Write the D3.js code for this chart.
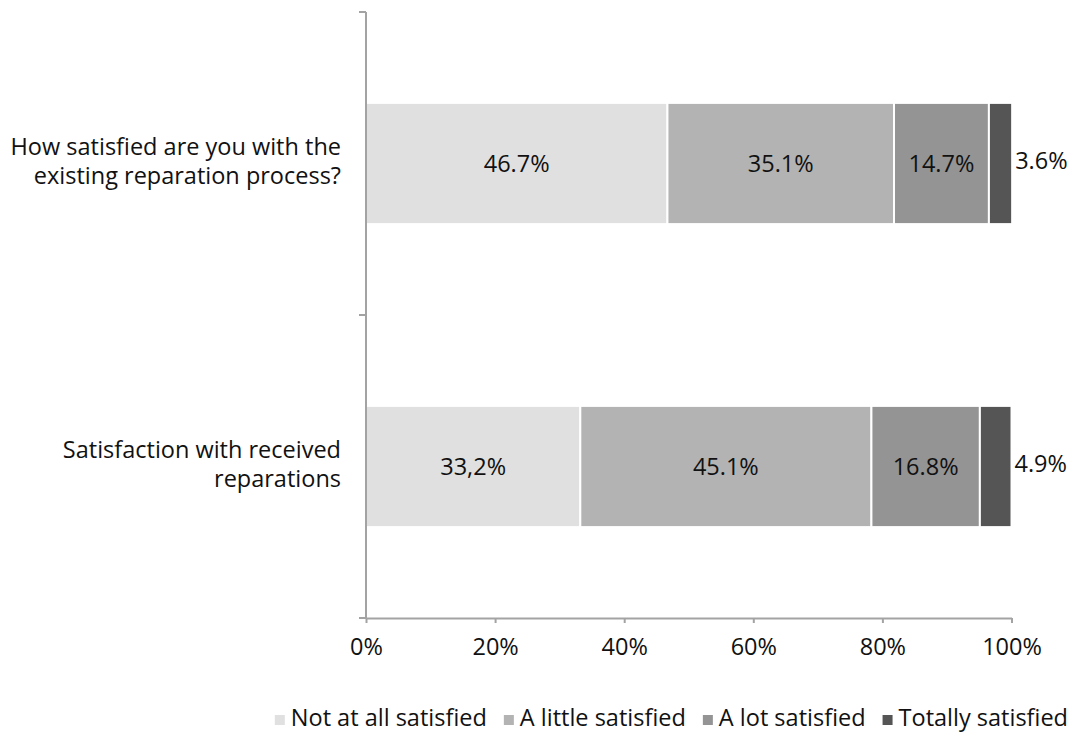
<!DOCTYPE html>
<html>
<head>
<meta charset="utf-8">
<script src="https://cdn.jsdelivr.net/npm/d3@7"></script>
<style>
  html, body { margin: 0; padding: 0; background: #fff; }
  svg { display: block; font-family: "Open Sans", "Noto Sans", sans-serif; }
</style>
</head>
<body>
<svg id="chart" width="1077" height="740"></svg>
<script>
// Survey questions (top to bottom), each split into four answer shares (%)
const questions = [
  ["How satisfied are you with the", "existing reparation process?"],
  ["Satisfaction with received", "reparations"]
];
const questionKeys = ["process", "received"];
const answerLevels = ["Not at all satisfied", "A little satisfied", "A lot satisfied", "Totally satisfied"];
const processShares = [46.7, 35.1, 14.7, 3.6];
const receivedShares = [33.2, 45.1, 16.8, 4.9];
const processLabels = ["46.7%", "35.1%", "14.7%", "3.6%"];
const receivedLabels = ["33,2%", "45.1%", "16.8%", "4.9%"];
const xTicks = [0, 20, 40, 60, 80, 100];
const xTickLabels = ["0%", "20%", "40%", "60%", "80%", "100%"];
const levelColors = ["#e0e0e0", "#b3b3b3", "#949494", "#555555"];

const rows = [
  { key: questionKeys[0], lines: questions[0], shares: processShares, labels: processLabels },
  { key: questionKeys[1], lines: questions[1], shares: receivedShares, labels: receivedLabels }
];

const svg = d3.select("#chart");
const fontSize = 23.5;
const axisColor = "#a3a3a3";

const plot = { left: 366, right: 1011.5, top: 12, bottom: 618 };

const x = d3.scaleLinear().domain([0, 100]).range([plot.left, plot.right]);
const y = d3.scaleBand()
  .domain(questionKeys)
  .range([plot.top, plot.bottom])
  .paddingInner(0.6)
  .paddingOuter(0.3);
const color = d3.scaleOrdinal().domain(answerLevels).range(levelColors);

// Stacked segments per question
rows.forEach(row => {
  let acc = 0;
  row.segs = row.shares.map((v, i) => {
    const s = { level: answerLevels[i], x0: acc, x1: acc + v, label: row.labels[i], value: v };
    acc += v;
    return s;
  });
  row.total = acc;
});

const barG = svg.append("g");
rows.forEach(row => {
  const g = barG.append("g");
  g.selectAll("rect")
    .data(row.segs)
    .join("rect")
    .attr("x", d => x(d.x0))
    .attr("y", y(row.key))
    .attr("width", d => x(d.x1) - x(d.x0))
    .attr("height", y.bandwidth())
    .attr("fill", d => color(d.level))
    .attr("stroke", "#ffffff")
    .attr("stroke-width", 2);

  const cy = y(row.key) + y.bandwidth() / 2;
  // Value labels: centred in wide segments, beside the bar end for the narrow last one
  g.selectAll("text")
    .data(row.segs)
    .join("text")
    .attr("x", d => d.value >= 10 ? x((d.x0 + d.x1) / 2) : x(row.total) + 3)
    .attr("y", d => d.value >= 10 ? cy + 2 : cy - 1)
    .attr("text-anchor", d => d.value >= 10 ? "middle" : "start")
    .attr("dominant-baseline", "middle")
    .attr("font-size", fontSize)
    .attr("fill", "#111")
    .text(d => d.label);
});

// Category axis
const yAxisG = svg.append("g");
yAxisG.append("line")
  .attr("x1", plot.left).attr("x2", plot.left)
  .attr("y1", plot.top).attr("y2", plot.bottom)
  .attr("stroke", axisColor).attr("stroke-width", 2);
const yTickPositions = [plot.top].concat(questionKeys.map(k => y(k) + y.bandwidth() / 2 + y.step() / 2));
yAxisG.selectAll("line.tick")
  .data(yTickPositions)
  .join("line")
  .attr("class", "tick")
  .attr("x1", plot.left - 7).attr("x2", plot.left)
  .attr("y1", d => d).attr("y2", d => d)
  .attr("stroke", axisColor).attr("stroke-width", 2);

rows.forEach(row => {
  const cy = y(row.key) + y.bandwidth() / 2;
  const lh = 29;
  const t = svg.append("text")
    .attr("text-anchor", "end")
    .attr("font-size", fontSize)
    .attr("fill", "#111");
  row.lines.forEach((ln, i) => {
    t.append("tspan")
      .attr("x", 341)
      .attr("y", cy + (i - (row.lines.length - 1) / 2) * lh)
      .attr("dominant-baseline", "middle")
      .text(ln);
  });
});

// Value axis
const xAxis = d3.axisBottom(x)
  .tickValues(xTicks)
  .tickFormat((d, i) => xTickLabels[i])
  .tickSize(5)
  .tickSizeOuter(0)
  .tickPadding(15);
const xAxisG = svg.append("g")
  .attr("transform", `translate(0,${plot.bottom})`)
  .call(xAxis);
xAxisG.select(".domain").attr("stroke", axisColor).attr("stroke-width", 2);
xAxisG.selectAll(".tick line").attr("stroke", axisColor).attr("stroke-width", 2);
xAxisG.selectAll(".tick text")
  .attr("font-size", fontSize)
  .attr("font-family", "\"Open Sans\", \"Noto Sans\", sans-serif")
  .attr("fill", "#111");

// Legend along the bottom
const legend = svg.append("g");
const legendY = 720;
const sw = 10, gapIn = 6, gapOut = 17;
const items = legend.selectAll("g")
  .data(answerLevels)
  .join("g");
items.append("rect")
  .attr("width", sw).attr("height", sw)
  .attr("y", legendY - sw / 2)
  .attr("fill", d => color(d));
items.append("text")
  .attr("y", legendY)
  .attr("dominant-baseline", "middle")
  .attr("font-size", fontSize)
  .attr("fill", "#111")
  .text(d => d);
let cx = 0;
const offsets = [];
items.each(function () {
  const w = d3.select(this).select("text").node().getComputedTextLength();
  offsets.push(cx);
  cx += sw + gapIn + w + gapOut;
});
const totalW = cx - gapOut;
const startX = 1068 - totalW;
items.each(function (d, i) {
  const g = d3.select(this);
  g.select("rect").attr("x", startX + offsets[i]);
  g.select("text").attr("x", startX + offsets[i] + sw + gapIn);
});
</script>
</body>
</html>
